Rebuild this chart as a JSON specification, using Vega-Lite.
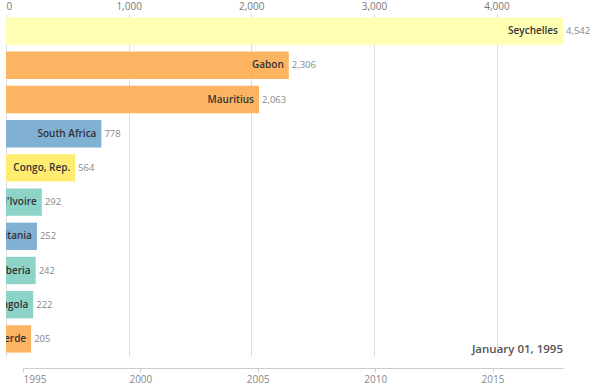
{
  "$schema": "https://vega.github.io/schema/vega-lite/v6.json",
  "width": 557,
  "height": 342,
  "autosize": "none",
  "padding": {"left": 6, "top": 14, "right": 37, "bottom": 33},
  "background": "white",
  "config": {"font": "Open Sans", "view": {"stroke": null}},
  "resolve": {"scale": {"x": "independent"}},
  "layer": [
    {
      "data": {
        "values": [
          {"country": "Seychelles", "value": 4542, "group": "g1"},
          {"country": "Gabon", "value": 2306, "group": "g2"},
          {"country": "Mauritius", "value": 2063, "group": "g2"},
          {"country": "South Africa", "value": 778, "group": "g3"},
          {"country": "Congo, Rep.", "value": 564, "group": "g4"},
          {"country": "Côte d'Ivoire", "value": 292, "group": "g5"},
          {"country": "Mauritania", "value": 252, "group": "g3"},
          {"country": "Liberia", "value": 242, "group": "g5"},
          {"country": "Angola", "value": 222, "group": "g5"},
          {"country": "Cabo Verde", "value": 205, "group": "g2"}
        ]
      },
      "encoding": {
        "y": {
          "field": "country",
          "type": "nominal",
          "sort": null,
          "axis": null,
          "scale": {
            "domain": ["Seychelles", "Gabon", "Mauritius", "South Africa", "Congo, Rep.", "Côte d'Ivoire", "Mauritania", "Liberia", "Angola", "Cabo Verde"],
            "paddingInner": 0.2,
            "paddingOuter": 0.1
          }
        },
        "x": {
          "field": "value",
          "type": "quantitative",
          "scale": {"nice": false, "zero": true},
          "axis": {
            "orient": "top",
            "values": [0, 1000, 2000, 3000, 4000],
            "format": ",.0f",
            "title": null,
            "domain": false,
            "ticks": false,
            "grid": true,
            "gridColor": "#dddddd",
            "labelColor": "#777777",
            "labelFontSize": 10,
            "labelPadding": 3
          }
        }
      },
      "layer": [
        {
          "mark": {"type": "bar"},
          "encoding": {
            "color": {
              "field": "group",
              "type": "nominal",
              "legend": null,
              "scale": {
                "domain": ["g1", "g2", "g3", "g4", "g5"],
                "range": ["#ffffb3", "#fdb462", "#80b1d3", "#ffed6f", "#8dd3c7"]
              }
            }
          }
        },
        {
          "mark": {"type": "text", "align": "right", "baseline": "middle", "dx": -5, "clip": true, "fontSize": 10, "fontWeight": 600, "color": "#333333"},
          "encoding": {"text": {"field": "country", "type": "nominal"}}
        },
        {
          "mark": {"type": "text", "align": "left", "baseline": "middle", "dx": 3, "fontSize": 9.5, "color": "#888888"},
          "encoding": {"text": {"field": "value", "type": "quantitative", "format": ","}}
        }
      ]
    },
    {
      "data": {"values": [{"label": "January 01, 1995"}]},
      "mark": {"type": "text", "align": "right", "baseline": "alphabetic", "dy": 14, "fontSize": 11.5, "fontWeight": 600, "color": "#555555"},
      "encoding": {
        "x": {
          "datum": {"year": 2018, "month": 1, "date": 1},
          "type": "temporal",
          "scale": {"domain": [{"year": 1995, "month": 1, "date": 1}, {"year": 2018, "month": 1, "date": 1}], "range": [17, 557]},
          "axis": {
            "orient": "bottom",
            "values": [{"year": 1995}, {"year": 2000}, {"year": 2005}, {"year": 2010}, {"year": 2015}],
            "format": "%Y",
            "title": null,
            "grid": false,
            "offset": 12,
            "domainColor": "#cccccc",
            "tickColor": "#cccccc",
            "tickSize": 4,
            "labelColor": "#888888",
            "labelFontSize": 10
          }
        },
        "y": {"datum": "Cabo Verde", "type": "nominal"},
        "text": {"field": "label", "type": "nominal"}
      }
    }
  ]
}
